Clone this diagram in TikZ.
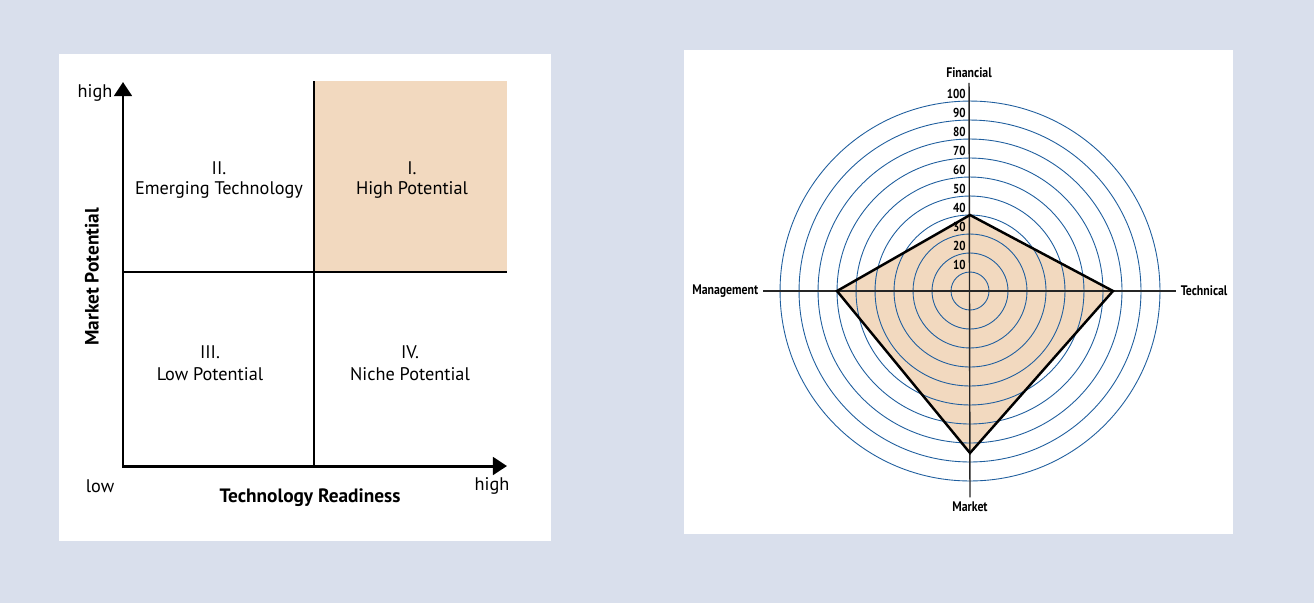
\documentclass[tikz,border=0pt]{standalone}
\usepackage{fontspec}
\setmainfont{PT Sans}
\newfontfamily\condfont[FakeStretch=0.85]{PT Sans}
\usepackage[dvipsnames]{xcolor}
\usetikzlibrary{positioning,arrows.meta}
\definecolor{bgblue}{HTML}{D9DFEC}
\definecolor{peach}{HTML}{F2D9BF}
\definecolor{ringblue}{HTML}{1F5E9E}

\begin{document}
\begin{tikzpicture}[x=0.02cm,y=-0.02cm,>={Triangle[length=8pt,width=10pt]},node distance=0.44cm,
  quad/.style={font=\fontsize{10.4}{12}\selectfont,inner sep=0pt},
  axis label/.style={font=\fontsize{11}{13}\selectfont\bfseries,inner sep=0pt},
  radar label/.style={font=\condfont\bfseries\fontsize{7.9}{9}\selectfont,inner sep=2.5pt},
  num/.style={font=\condfont\bfseries\fontsize{7.4}{8}\selectfont,inner sep=0pt,anchor=east},
  ring/.style={ringblue,line width=0.5pt},
  axis line/.style={black!85,line width=0.8pt}]

                % panels
                \fill[bgblue] (0,0) rectangle (1314,603);
                \fill[white] (59,54) rectangle (551,541);
                \fill[white] (684,50) rectangle (1233,534);

                % matrix chart
                \coordinate (o) at (123,466);
                \coordinate (ytip) at (123,82);
                \coordinate (xtip) at (507,466);
                \coordinate (mtop) at (314,81);
                \coordinate (mbot) at (314,466);
                \coordinate (ml) at (123,272);
                \coordinate (mr) at (507,272);

                \fill[peach] (mtop) rectangle (mr);
                \draw[-,line width=0.85pt] (mtop) to (mbot);
                \draw[-,line width=0.85pt] (ml) to (mr);
                \draw[<->,line width=1.7pt] (ytip) to (o) to (xtip);

                \node[quad] (hiy) at (95,93) {high};
                \node[quad] (lo) at (100,486) {low};
                \node[quad] (hix) at (492,486) {high};
                \node[axis label] (tr) at (310,498) {Technology Readiness};
                \node[axis label,rotate=90] (mp) at (92,277) {Market Potential};

                \node[quad] (q2) at (219,168) {II.};
                \node[quad] (q2t) [below of = q2] {Emerging Technology};
                \node[quad] (q1) at (412,168) {I.};
                \node[quad] (q1t) [below of = q1] {High Potential};
                \node[quad] (q3) at (210,352) {III.};
                \node[quad] (q3t) [below of = q3] {Low Potential};
                \node[quad] (q4) at (410,352) {IV.};
                \node[quad] (q4t) [below of = q4] {Niche Potential};

                % radar chart
                \coordinate (c) at (970,291);
                \coordinate (fin) at (970,215);
                \coordinate (tec) at (1113,291);
                \coordinate (mkt) at (970,453);
                \coordinate (mgt) at (837,291);

                \fill[peach] (fin) -- (tec) -- (mkt) -- (mgt) -- cycle;
                \foreach \k in {1,...,10}
                    \draw[ring] (c) circle [radius=0.38cm*\k];

                \node[radar label] (fl) at (969,73) {Financial};
                \node[radar label] (mkl) at (970,507) {Market};
                \node[radar label,anchor=east] (mgl) at (763,291) {Management};
                \node[radar label,anchor=west] (tl) at (1176,291) {Technical};

                \draw[axis line] (fl) to (mkl);
                \draw[axis line] (mgl) to (tl);

                \foreach \k [evaluate=\k as \v using int(10*\k)] in {1,...,10}
                    \node[num] (n\k) at (966,{291-19*\k-7.5}) {\v};

                \draw[line width=1.4pt,line join=miter] (fin) -- (tec) -- (mkt) -- (mgt) -- cycle;

                ;
            \end{tikzpicture}
\end{document}
